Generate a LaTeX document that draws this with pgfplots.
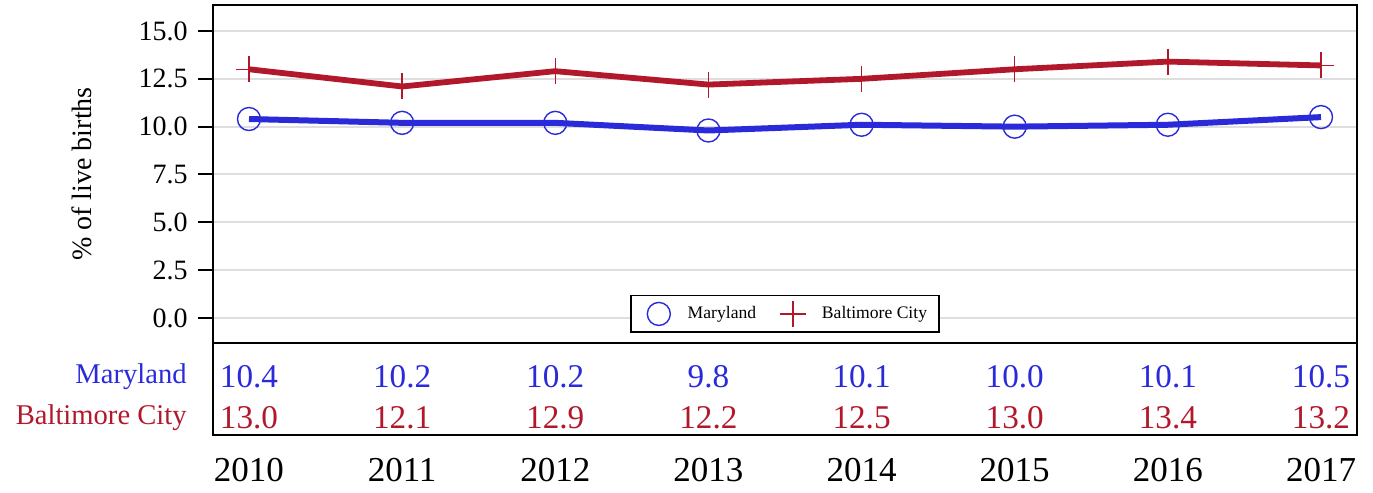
\documentclass[border=0pt]{standalone}
\usepackage{pgfplots}
\usepackage{pgfplotstable}
\pgfplotsset{compat=1.18}
\usepackage{fontspec}
\setmainfont{Liberation Serif}
\definecolor{mdblue}{RGB}{42,42,218}
\definecolor{bcred}{RGB}{178,24,43}
\definecolor{gridgray}{RGB}{222,222,222}
\pgfplotstableread{
year md bc
2010 10.4 13.0
2011 10.2 12.1
2012 10.2 12.9
2013 9.8 12.2
2014 10.1 12.5
2015 10.0 13.0
2016 10.1 13.4
2017 10.5 13.2
}\data
\begin{document}
\begin{tikzpicture}
\useasboundingbox (0,0) rectangle (686.5pt,246.5pt);
\begin{axis}[
  at={(106.5pt,75pt)}, anchor=south west,
  width=572pt, height=169pt, scale only axis,
  xmin=2009.765, xmax=2017.235,
  ymin=-1.307, ymax=16.359,
  xtick=\empty,
  ytick={0,2.5,5,7.5,10,12.5,15},
  yticklabel style={/pgf/number format/fixed, /pgf/number format/fixed zerofill, /pgf/number format/precision=1, /pgf/number format/assume math mode=true,
    font=\fontsize{14}{16}\selectfont, inner sep=0pt, xshift=-5pt},
  tick align=outside, major tick length=7.5pt,
  tick style={black, line width=1pt},
  ytick pos=left,
  ymajorgrids, grid style={gridgray, line width=1pt},
  axis line style={line width=1pt},
  ylabel={\% of live births},
  ylabel style={at={(axis description cs:-0.1145,0.5)}, anchor=center, font=\fontsize{14}{16}\selectfont},
  legend style={at={(0.5,0.086)}, anchor=center, legend columns=2, draw=black, line width=0.9pt,
    font=\fontsize{8.8}{10}\selectfont, inner xsep=6pt, inner ysep=2.7pt,
    nodes={inner sep=0pt},
    /tikz/every even column/.append style={column sep=0pt},
    /tikz/every odd column/.append style={column sep=0pt}},
  legend cell align=left,
]
\addlegendimage{only marks, mark=o, mark size=5.75pt, mdblue, mark options={line width=0.7pt},
  legend image code/.code={\path (-7.5pt,0) (14pt,0); \draw[only marks] plot coordinates {(0pt,0pt)};}}
\addlegendentry{Maryland}
\addlegendimage{only marks, mark=+, mark size=6.5pt, bcred, mark options={line width=0.7pt},
  legend image code/.code={\path (-18pt,0) (14pt,0); \draw[only marks] plot coordinates {(0pt,0pt)};}}
\addlegendentry{Baltimore City}
\addplot[mdblue, line width=3pt, mark=o, mark size=5.75pt, mark options={line width=0.7pt, fill=none}, forget plot] table[x=year, y=md] {\data};
\addplot[bcred, line width=2.9pt, mark=+, mark size=6.5pt, mark options={line width=0.7pt}, forget plot] table[x=year, y=bc] {\data};
\end{axis}
\begin{axis}[
  at={(106.5pt,29pt)}, anchor=south west,
  width=572pt, height=46pt, scale only axis,
  xmin=2009.765, xmax=2017.235,
  ymin=0, ymax=1,
  xtick={2010,2011,2012,2013,2014,2015,2016,2017},
  xticklabel style={/pgf/number format/1000 sep={}, /pgf/number format/assume math mode=true,
    font=\fontsize{17.5}{20}\selectfont, inner sep=0pt, yshift=-11.5pt},
  ytick={0.185,0.63},
  yticklabels={\textcolor{bcred}{Baltimore City},\textcolor{mdblue}{Maryland}},
  yticklabel style={font=\fontsize{14.3}{16}\selectfont, inner sep=0pt, xshift=-13pt},
  major tick length=0pt,
  axis line style={line width=1pt},
  clip=false,
  nodes near coords={\pgfmathprintnumber[fixed,fixed zerofill,precision=1,assume math mode=true]{\pgfplotspointmeta}},
  nodes near coords style={anchor=center, inner sep=0pt, font=\fontsize{16.6}{18}\selectfont},
]
\addplot[only marks, mark=none, mdblue, point meta=\thisrow{md}, nodes near coords style={mdblue}] table[x=year, y expr=0.63] {\data};
\addplot[only marks, mark=none, bcred, point meta=\thisrow{bc}, nodes near coords style={bcred}] table[x=year, y expr=0.185] {\data};
\end{axis}
\end{tikzpicture}
\end{document}
